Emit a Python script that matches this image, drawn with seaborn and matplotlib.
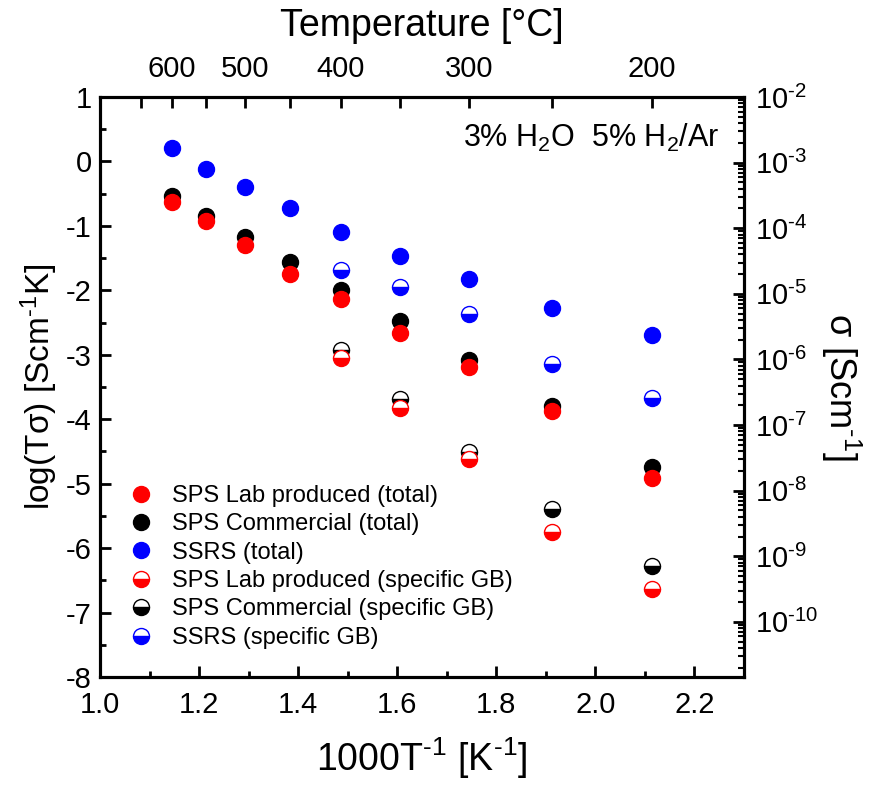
import matplotlib
matplotlib.use("Agg")
import matplotlib.pyplot as plt
import numpy as np
import pandas as pd
import seaborn as sns

temp_total = [600, 550, 500, 450, 400, 350, 300, 250, 200]
temp_gb = [400, 350, 300, 250, 200]

lab_total = [-0.63, -0.92, -1.30, -1.74, -2.13, -2.66, -3.19, -3.88, -4.91]
comm_total = [-0.53, -0.84, -1.17, -1.56, -1.99, -2.48, -3.08, -3.80, -4.74]
ssrs_total = [0.21, -0.12, -0.40, -0.72, -1.09, -1.46, -1.83, -2.27, -2.70]

lab_gb = [-3.05, -3.83, -4.62, -5.75, -6.63]
comm_gb = [-2.93, -3.68, -4.51, -5.40, -6.27]
ssrs_gb = [-1.69, -1.95, -2.36, -3.14, -3.67]

top_temps = [650, 600, 550, 500, 450, 400, 350, 300, 250, 200]

sns.set_style("ticks")
plt.rcParams['font.family'] = ['Liberation Sans', 'DejaVu Sans']
plt.rcParams['mathtext.fontset'] = 'custom'
plt.rcParams['mathtext.rm'] = 'Liberation Sans'
plt.rcParams['mathtext.it'] = 'Liberation Sans:italic'
plt.rcParams['axes.unicode_minus'] = False
for key in ('text.color', 'axes.labelcolor', 'axes.edgecolor', 'xtick.color', 'ytick.color'):
    plt.rcParams[key] = 'black'


def inv_t(temps):
    return [1000.0 / (t + 273.15) for t in temps]


series = [
    ('SPS Lab produced (total)', temp_total, lab_total, 'red', 'full', 4),
    ('SPS Commercial (total)', temp_total, comm_total, 'black', 'full', 3),
    ('SSRS (total)', temp_total, ssrs_total, 'blue', 'full', 3),
    ('SPS Lab produced (specific GB)', temp_gb, lab_gb, 'red', 'bottom', 4),
    ('SPS Commercial (specific GB)', temp_gb, comm_gb, 'black', 'bottom', 3),
    ('SSRS (specific GB)', temp_gb, ssrs_gb, 'blue', 'bottom', 3),
]

fig = plt.figure(figsize=(8.75, 7.85), dpi=100)
ax = fig.add_axes([0.1143, 0.1376, 0.736, 0.7388])

for label, temps, vals, color, fill, z in series:
    df = pd.DataFrame({'x': inv_t(temps), 'y': vals})
    sns.lineplot(data=df, x='x', y='y', ax=ax, estimator=None, sort=False,
                 color=color, linestyle='', marker='o', markersize=11.5,
                 fillstyle=fill, markerfacecoloralt='white',
                 markeredgecolor=color, markeredgewidth=1.0,
                 label=label, zorder=z)

ax.set_xlim(1.0, 2.3)
ax.set_ylim(-8, 1)
ax.set_xticks(np.arange(1.0, 2.21, 0.2))
ax.set_xticks(np.arange(1.1, 2.31, 0.2), minor=True)
ax.set_yticks(np.arange(-8, 1.1, 1))
ax.set_yticks(np.arange(-7.5, 1, 1), minor=True)
ax.xaxis.set_major_formatter(matplotlib.ticker.FormatStrFormatter('%.1f'))
ax.yaxis.set_major_formatter(matplotlib.ticker.FormatStrFormatter('%d'))
ax.set_xlabel(r'1000T$^{\text{-1}}$ [K$^{\text{-1}}$]', fontsize=27, labelpad=12)
ax.set_ylabel(r'log(Tσ) [Scm$^{\text{-1}}$K]', fontsize=24, labelpad=4)
ax.tick_params(which='major', direction='in', length=8, width=2, labelsize=21)
ax.tick_params(which='minor', direction='in', length=4, width=2)
ax.tick_params(axis='x', which='major', pad=10)
ax.tick_params(axis='y', which='major', pad=6)

# right axis: conductivity on log scale
ax_r = ax.twinx()
ax_r.set_yscale('log')
ax_r.set_ylim(10 ** -10.84, 1e-2)
ax_r.yaxis.set_major_locator(matplotlib.ticker.LogLocator(base=10, numticks=20))
ax_r.yaxis.set_minor_locator(matplotlib.ticker.LogLocator(base=10, subs=np.arange(2, 10), numticks=20))
ax_r.yaxis.set_major_formatter(matplotlib.ticker.FuncFormatter(
    lambda v, pos: r'10$^{\text{%d}}$' % round(np.log10(v))))
ax_r.yaxis.set_minor_formatter(matplotlib.ticker.NullFormatter())
ax_r.tick_params(which='major', direction='in', length=8, width=2, labelsize=21, pad=8)
ax_r.tick_params(which='minor', direction='in', length=4, width=1.5)
ax_r.set_ylabel(r'σ [Scm$^{\text{-1}}$]', fontsize=26, rotation=270, labelpad=32)

# top axis: temperature in °C
ax_t = ax.twiny()
ax_t.set_xlim(1.0, 2.3)
ax_t.set_xticks(inv_t(top_temps))
ax_t.set_xticklabels([str(t) if t % 100 == 0 else '' for t in top_temps])
ax_t.tick_params(which='major', direction='in', length=8, width=2, labelsize=21, pad=10)
ax_t.set_xlabel('Temperature [°C]', fontsize=27, labelpad=14)

for a in (ax, ax_r, ax_t):
    for sp in a.spines.values():
        sp.set_linewidth(2.2)
        sp.set_visible(True)

ax.text(0.564, 0.929, r'3% H$_2$O  5% H$_2$/Ar', transform=ax.transAxes,
        fontsize=22, ha='left', va='center')

ax.legend(loc='lower left', frameon=False, fontsize=17, numpoints=1,
          handlelength=1.0, handletextpad=0.8, labelspacing=0.27,
          borderaxespad=0.3, bbox_to_anchor=(0.02, 0.02))

fig.savefig('out.png', dpi=100)
